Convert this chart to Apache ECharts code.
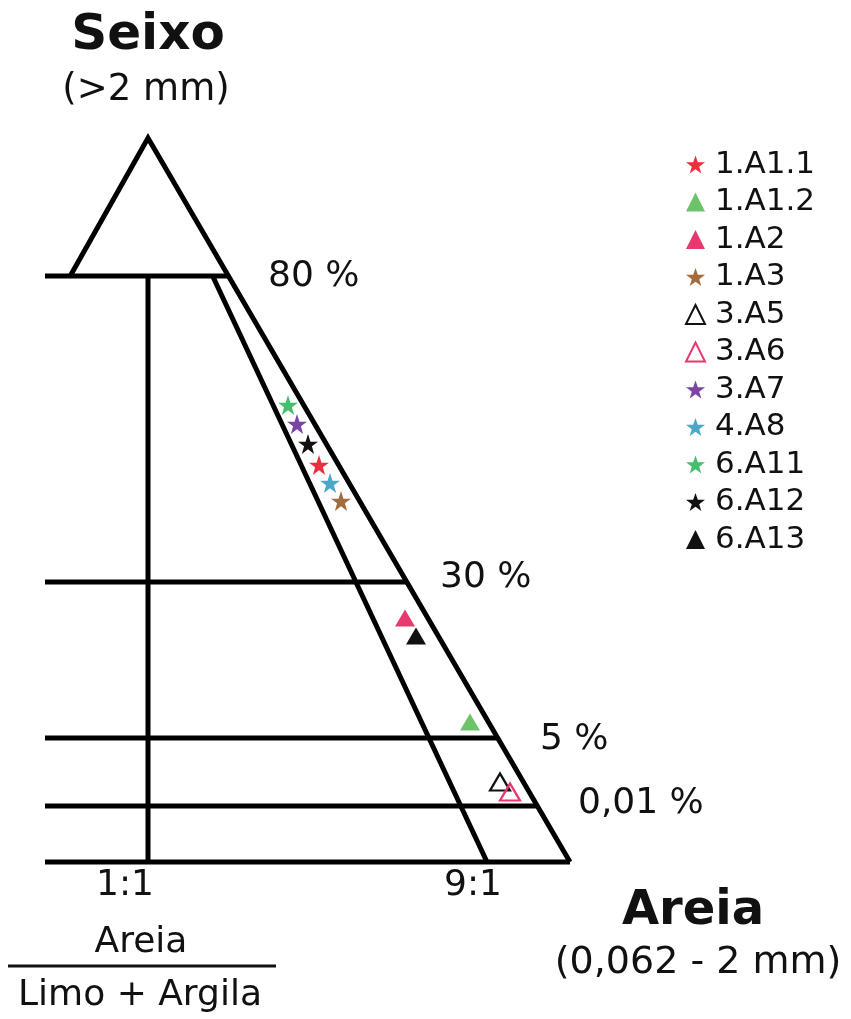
<!DOCTYPE html>
<html>
<head>
<meta charset="utf-8">
<script src="https://cdn.jsdelivr.net/npm/echarts@6/dist/echarts.min.js"></script>
<style>
  html, body { margin: 0; padding: 0; background: #fff; }
  #chart { width: 851px; height: 1019px; }
</style>
</head>
<body>
<div id="chart"></div>
<script>
  // diagram units = layout units of the sketch (y grows downwards)
  const apex = [148, 138]
  const baseRight = [570, 862]
  const leftEdge = 45
  const levelY = [276, 582, 738, 806, 862]          // 80 %, 30 %, 5 %, 0,01 %, base
  const levelLabels = ['80 %', '30 %', '5 %', '0,01 %']
  const levelLabelX = [268, 440, 540, 578]
  const levelLabelY = [277, 578, 740, 804]
  const ratioLabels = ['1:1', '9:1']
  const ratioX = [148, 487]                          // where the ratio lines meet the base
  const ratioLabelX = [125, 473]
  const ratioLabelY = 886

  // samples
  const names = ['1.A1.1', '1.A1.2', '1.A2', '1.A3', '3.A5', '3.A6', '3.A7', '4.A8', '6.A11', '6.A12', '6.A13']
  const shapes = ['star', 'tri', 'tri', 'star', 'hollow', 'hollow', 'star', 'star', 'star', 'star', 'tri']
  const colors = ['#ec2f3e', '#6cc36a', '#e8396f', '#a26d3e', '#111111', '#e8396f', '#7b45a6', '#4aa7c6', '#45bf6c', '#111111', '#111111']
  const sampleX = [319, 470, 405, 341, 500, 510, 297, 330, 288, 308, 416]
  const sampleY = [465, 722, 618, 501, 782, 792, 424, 483, 405, 444, 636]

  const star = 'path://M50,0 L61.8,35.1 L98.1,35.1 L68.7,56.8 L79.4,91.9 L50,70.2 L20.6,91.9 L31.3,56.8 L1.9,35.1 L38.2,35.1 Z'

  function rightX(y) {
    return apex[0] + (baseRight[0] - apex[0]) * (y - apex[1]) / (baseRight[1] - apex[1])
  }
  function lineX(x0, y) {
    // line from apex to point x0 on the base
    return apex[0] + (x0 - apex[0]) * (y - apex[1]) / (baseRight[1] - apex[1])
  }

  const frame = []
  // top triangle (left side only down to 80 %)
  frame.push({ coords: [[lineX(-260, levelY[0]), levelY[0]], apex, baseRight] })
  levelY.forEach(y => {
    frame.push({ coords: [[leftEdge, y], [rightX(y), y]] })
  })
  ratioX.forEach(x0 => {
    frame.push({ coords: [[lineX(x0, levelY[0]), levelY[0]], [x0, baseRight[1]]] })
  })

  const annot = []
  levelLabels.forEach((t, i) => {
    annot.push({ value: [levelLabelX[i], levelLabelY[i]], label: { formatter: t, align: 'left' } })
  })
  ratioLabels.forEach((t, i) => {
    annot.push({ value: [ratioLabelX[i], ratioLabelY], label: { formatter: t, align: 'center' } })
  })

  const sampleSeries = names.map((n, i) => {
    const s = shapes[i]
    return {
      name: n,
      type: 'scatter',
      symbol: s === 'star' ? star : 'triangle',
      symbolSize: s === 'star' ? 20 : [20, 17],
      itemStyle: s === 'hollow'
        ? { color: 'rgba(255,255,255,0)', borderColor: colors[i], borderWidth: 2.2, opacity: 1 }
        : { color: colors[i], opacity: 1 },
      data: [[sampleX[i], sampleY[i]]],
      z: 5
    }
  })

  const chart = echarts.init(document.getElementById('chart'))
  const font = 'DejaVu Sans, Verdana, sans-serif'

  chart.setOption({
    animation: false,
    grid: { left: 0, right: 0, top: 0, bottom: 0 },
    xAxis: { type: 'value', min: 0, max: 851, show: false },
    yAxis: { type: 'value', min: 0, max: 1019, inverse: true, show: false },
    legend: {
      data: names,
      orient: 'vertical',
      left: 680,
      top: 144,
      itemWidth: 19,
      itemHeight: 19,
      itemGap: 6.5,
      textStyle: { fontFamily: font, fontSize: 31, color: '#111', lineHeight: 31, padding: [0, 0, 0, 5] }
    },
    graphic: [
      { type: 'text', x: 148, y: 36, style: { text: 'Seixo', font: 'bold 50px ' + font, fill: '#111', align: 'center', verticalAlign: 'middle' } },
      { type: 'text', x: 146, y: 90, style: { text: '(>2 mm)', font: '37px ' + font, fill: '#111', align: 'center', verticalAlign: 'middle' } },
      { type: 'text', x: 693, y: 912, style: { text: 'Areia', font: 'bold 48px ' + font, fill: '#111', align: 'center', verticalAlign: 'middle' } },
      { type: 'text', x: 698, y: 963, style: { text: '(0,062 - 2 mm)', font: '38px ' + font, fill: '#111', align: 'center', verticalAlign: 'middle' } },
      { type: 'text', x: 141, y: 943, style: { text: 'Areia', font: '36px ' + font, fill: '#111', align: 'center', verticalAlign: 'middle' } },
      { type: 'line', shape: { x1: 8, y1: 966, x2: 276, y2: 966 }, style: { stroke: '#111', lineWidth: 3 } },
      { type: 'text', x: 140, y: 996, style: { text: 'Limo + Argila', font: '36px ' + font, fill: '#111', align: 'center', verticalAlign: 'middle' } }
    ],
    series: [
      {
        name: 'frame',
        type: 'lines',
        coordinateSystem: 'cartesian2d',
        polyline: true,
        silent: true,
        lineStyle: { color: '#000', width: 5, opacity: 1, join: 'miter' },
        data: frame,
        z: 2
      },
      {
        name: 'annot',
        type: 'scatter',
        symbolSize: 0,
        silent: true,
        itemStyle: { opacity: 1 },
        label: {
          show: true,
          position: 'inside',
          verticalAlign: 'middle',
          color: '#111',
          opacity: 1,
          fontFamily: font,
          fontSize: 36
        },
        data: annot
      }
    ].concat(sampleSeries)
  })
</script>
</body>
</html>
